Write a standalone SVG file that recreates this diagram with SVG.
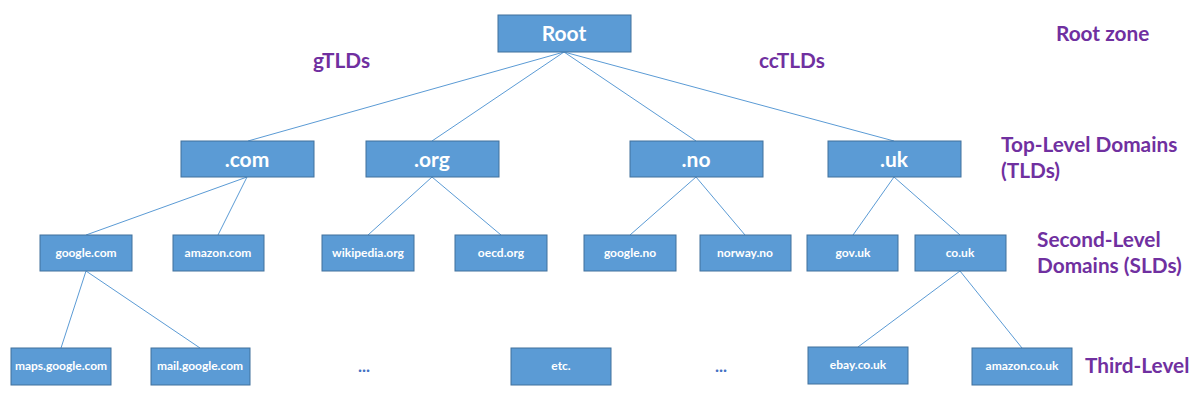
<svg xmlns="http://www.w3.org/2000/svg" width="1190" height="416" viewBox="0 0 1190 416">
<style>
.box{fill:#5B9BD5;stroke:#41719C;stroke-width:1}
.t{font-family:Lato,"Open Sans","Liberation Sans",sans-serif;font-weight:bold;fill:#fff;text-anchor:middle}
.big{font-size:21px}
.sm{font-size:12px}
.lbl{font-family:Lato,"Open Sans","Liberation Sans",sans-serif;font-weight:bold;fill:#7030A0;font-size:20.8px}
.dots{font-family:Lato,"Liberation Sans",sans-serif;font-weight:bold;fill:#4472C4;font-size:17px;text-anchor:middle}
.c line{stroke:#5B9BD5;stroke-width:1}
</style>
<rect width="1190" height="416" fill="#fff"/>
<g class="c" id="connectors">
<line x1="564" y1="52" x2="248" y2="141"/>
<line x1="564" y1="52" x2="432" y2="141"/>
<line x1="564" y1="52" x2="696" y2="141"/>
<line x1="564" y1="52" x2="894" y2="141"/>
<line x1="247" y1="177" x2="86" y2="235"/>
<line x1="247" y1="177" x2="218" y2="235"/>
<line x1="432" y1="177" x2="368" y2="235"/>
<line x1="432" y1="177" x2="501" y2="235"/>
<line x1="696" y1="177" x2="630" y2="235"/>
<line x1="696" y1="177" x2="745" y2="235"/>
<line x1="894" y1="177" x2="853" y2="235"/>
<line x1="894" y1="177" x2="960" y2="235"/>
<line x1="86" y1="271" x2="61" y2="348"/>
<line x1="86" y1="271" x2="200" y2="348"/>
<line x1="960" y1="271" x2="858" y2="347"/>
<line x1="960" y1="271" x2="1022" y2="348"/>
</g>
<g id="root"><rect class="box" x="498" y="15" width="133" height="37"/><text class="t big" x="564" y="41">Root</text></g>
<g id="com"><rect class="box" x="181" y="141" width="133" height="36"/><text class="t big" x="247" y="166.5">.com</text></g>
<g id="org"><rect class="box" x="366" y="141" width="133" height="36"/><text class="t big" x="432" y="166.5">.org</text></g>
<g id="no"><rect class="box" x="630" y="141" width="133" height="36"/><text class="t big" x="696" y="166.5">.no</text></g>
<g id="uk"><rect class="box" x="828" y="141" width="133" height="36"/><text class="t big" x="894" y="166.5">.uk</text></g>
<g id="google-com"><rect class="box" x="40" y="235" width="92" height="36"/><text class="t sm" x="86" y="257">google.com</text></g>
<g id="amazon-com"><rect class="box" x="173" y="235" width="91" height="36"/><text class="t sm" x="218" y="257">amazon.com</text></g>
<g id="wikipedia-org"><rect class="box" x="322" y="235" width="92" height="36"/><text class="t sm" x="368" y="257">wikipedia.org</text></g>
<g id="oecd-org"><rect class="box" x="455" y="235" width="92" height="36"/><text class="t sm" x="501" y="257">oecd.org</text></g>
<g id="google-no"><rect class="box" x="584" y="235" width="92" height="36"/><text class="t sm" x="630" y="257">google.no</text></g>
<g id="norway-no"><rect class="box" x="700" y="235" width="91" height="36"/><text class="t sm" x="745" y="257">norway.no</text></g>
<g id="gov-uk"><rect class="box" x="807" y="235" width="91" height="36"/><text class="t sm" x="853" y="257">gov.uk</text></g>
<g id="co-uk"><rect class="box" x="915" y="235" width="91" height="36"/><text class="t sm" x="960" y="257">co.uk</text></g>
<g id="maps-google-com"><rect class="box" x="11" y="348" width="100" height="37"/><text class="t sm" x="61" y="370">maps.google.com</text></g>
<g id="mail-google-com"><rect class="box" x="151" y="348" width="99" height="37"/><text class="t sm" x="200" y="370">mail.google.com</text></g>
<g id="etc"><rect class="box" x="511" y="348" width="100" height="37"/><text class="t sm" x="561" y="370">etc.</text></g>
<g id="ebay-co-uk"><rect class="box" x="808" y="347" width="100" height="37"/><text class="t sm" x="858" y="369">ebay.co.uk</text></g>
<g id="amazon-co-uk"><rect class="box" x="972" y="348" width="100" height="37"/><text class="t sm" x="1022" y="370">amazon.co.uk</text></g>
<text class="dots" x="364" y="372">...</text>
<text class="dots" x="721" y="372">...</text>
<text class="lbl" x="313" y="68">gTLDs</text>
<text class="lbl" x="759" y="68">ccTLDs</text>
<text class="lbl" x="1056" y="41">Root zone</text>
<text class="lbl" x="1001" y="152">Top-Level Domains</text>
<text class="lbl" x="1001" y="178">(TLDs)</text>
<text class="lbl" x="1037" y="247">Second-Level</text>
<text class="lbl" x="1037" y="273">Domains (SLDs)</text>
<text class="lbl" x="1085" y="373">Third-Level</text>
</svg>
